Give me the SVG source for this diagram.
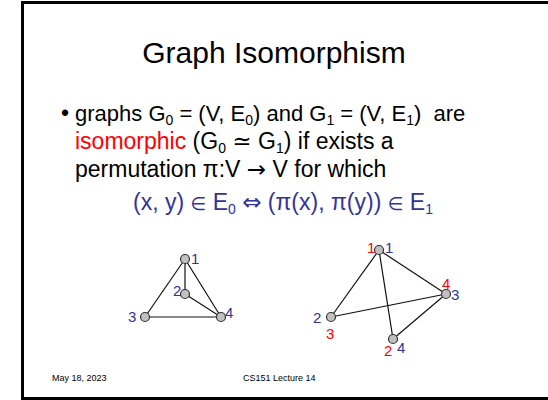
<svg xmlns="http://www.w3.org/2000/svg" width="548" height="400" viewBox="0 0 548 400">
<style>
text{font-family:"Liberation Sans",Arial,sans-serif;}
.t{font-size:23px;fill:#000;}
.sub{font-size:14px;}
.sym{font-family:"DejaVu Sans",sans-serif;}
.blue{fill:#333399;}
.red{fill:#ff0000;}
.lbl{font-size:15px;}
.node{fill:#c0c0c0;stroke:#333;stroke-width:1.2;}
.edge{stroke:#111;stroke-width:1.2;fill:none;}
.foot{font-size:9px;fill:#000;}
</style>
<rect x="0" y="0" width="548" height="400" fill="#fff"/>
<rect x="22.5" y="2.5" width="540" height="396" fill="#fff" stroke="#000" stroke-width="3"/>
<text x="274" y="63" font-size="30" text-anchor="middle">Graph Isomorphism</text>
<text x="61" y="121" class="t">•</text>
<text x="75" y="121" class="t" font-size="22" style="font-size:22px" xml:space="preserve">graphs G<tspan class="sub" dy="4">0</tspan><tspan dy="-4"> = (V, E</tspan><tspan class="sub" dy="4">0</tspan><tspan dy="-4">) and G</tspan><tspan class="sub" dy="4">1</tspan><tspan dy="-4"> = (V, E</tspan><tspan class="sub" dy="4">1</tspan><tspan dy="-4">)  are</tspan></text>
<text x="75" y="149" class="t" xml:space="preserve"><tspan class="red">isomorphic</tspan> (G<tspan class="sub" dy="4">0</tspan><tspan dy="-4"> </tspan><tspan class="sym">≃</tspan> G<tspan class="sub" dy="4">1</tspan><tspan dy="-4">) if exists a</tspan></text>
<text x="75" y="177" class="t" xml:space="preserve">permutation π:V <tspan class="sym">→</tspan> V for which</text>
<text x="283" y="210" class="t blue" text-anchor="middle" xml:space="preserve">(x, y) <tspan class="sym" font-size="18">∈</tspan> E<tspan class="sub" dy="4">0</tspan><tspan dy="-4"> </tspan><tspan class="sym">⇔</tspan> (π(x), π(y)) <tspan class="sym" font-size="18">∈</tspan> E<tspan class="sub" dy="4">1</tspan></text>
<g id="connectors">
<line class="edge" x1="185" y1="259" x2="185" y2="294"/>
<line class="edge" x1="185" y1="259" x2="145" y2="317"/>
<line class="edge" x1="185" y1="259" x2="221" y2="317"/>
<line class="edge" x1="185" y1="294" x2="221" y2="317"/>
<line class="edge" x1="145" y1="317" x2="221" y2="317"/>
<line class="edge" x1="379" y1="250" x2="331" y2="317"/>
<line class="edge" x1="379" y1="250" x2="393" y2="339"/>
<line class="edge" x1="379" y1="250" x2="446" y2="294"/>
<line class="edge" x1="331" y1="317" x2="446" y2="294"/>
<line class="edge" x1="446" y1="294" x2="393" y2="339"/>
</g>
<g id="a1"><circle class="node" cx="185" cy="259" r="4.5"/><text x="191" y="264" class="lbl blue">1</text></g>
<g id="a2"><circle class="node" cx="185" cy="294" r="4.5"/><text x="173" y="296" class="lbl blue">2</text></g>
<g id="a3"><circle class="node" cx="145" cy="317" r="4.5"/><text x="128" y="322" class="lbl blue">3</text></g>
<g id="a4"><circle class="node" cx="221" cy="317" r="4.5"/><text x="225" y="318" class="lbl blue">4</text></g>
<g id="b1"><circle class="node" cx="379" cy="250" r="4.5"/><text x="367" y="253" class="lbl red">1</text><text x="385" y="253" class="lbl blue">1</text></g>
<g id="b3"><circle class="node" cx="446" cy="294" r="4.5"/><text x="442" y="289" class="lbl red">4</text><text x="451" y="300" class="lbl blue">3</text></g>
<g id="b2"><circle class="node" cx="331" cy="317" r="4.5"/><text x="313" y="323" class="lbl blue">2</text><text x="326" y="339" class="lbl red">3</text></g>
<g id="b4"><circle class="node" cx="393" cy="339" r="4.5"/><text x="384" y="356" class="lbl red">2</text><text x="397" y="353" class="lbl blue">4</text></g>
<text x="52" y="381" class="foot">May 18, 2023</text>
<text x="243" y="381" class="foot">CS151 Lecture 14</text>
</svg>
